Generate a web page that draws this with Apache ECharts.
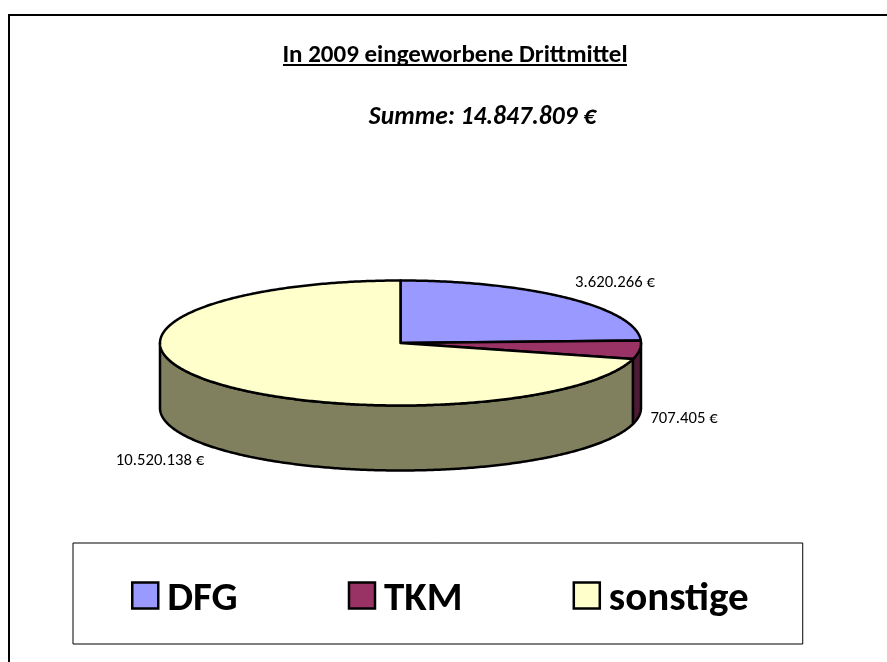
<!DOCTYPE html>
<html>
<head>
<meta charset="utf-8">
<style>html,body{margin:0;padding:0;background:#fff}#c{width:887px;height:662px}</style>
<script src="https://cdn.jsdelivr.net/npm/echarts@6/dist/echarts.min.js"></script>
</head>
<body>
<div id="c"></div>
<script>
var categories = ['DFG', 'TKM', 'sonstige'];
var values = [3620266, 707405, 10520138];
var topColors = ['#9999FF', '#993366', '#FFFFCC'];
var sideColors = ['#4D4D80', '#4D1A33', '#80805F'];
var chartTitle = 'In 2009 eingeworbene Drittmittel';
var chartSubtitle = 'Summe: 14.847.809 €';

var FONT = 'Carlito, Lato, "Open Sans", sans-serif';
var CX = 400.5, CY = 343, RX = 240.5, RY = 62.5, DEPTH = 65;
var labelPos = [[615, 283], [684, 419], [160, 461]];
var total = values.reduce(function (a, b) { return a + b; }, 0);

function fmt(v) {
  return String(v).replace(/\B(?=(\d{3})+$)/g, '.') + ' €';
}
function pt(a, dy) {
  return [CX + RX * Math.sin(a), CY - RY * Math.cos(a) + (dy || 0)];
}
function arc(a0, a1, dy) {
  var pts = [], n = Math.max(2, Math.ceil(Math.abs(a1 - a0) / 0.01));
  for (var i = 0; i <= n; i++) pts.push(pt(a0 + (a1 - a0) * i / n, dy));
  return pts;
}
function renderSlice(idx) {
  return function (params, api) {
    var before = 0;
    for (var i = 0; i < idx; i++) before += values[i];
    var a0 = before / total * 2 * Math.PI;
    var a1 = (before + api.value(0)) / total * 2 * Math.PI;
    var children = [];
    var w0 = Math.max(a0, Math.PI / 2), w1 = Math.min(a1, Math.PI * 1.5);
    if (w1 > w0) {
      var wall = arc(w0, w1, 0).concat(arc(w1, w0, DEPTH));
      children.push({
        type: 'polygon',
        shape: { points: wall },
        style: { fill: sideColors[idx], stroke: '#000', lineWidth: 2.5, lineJoin: 'round' }
      });
    }
    children.push({
      type: 'polygon',
      shape: { points: [[CX, CY]].concat(arc(a0, a1, 0)) },
      style: { fill: topColors[idx], stroke: '#000', lineWidth: 2.5, lineJoin: 'round' }
    });
    children.push({
      type: 'text',
      style: {
        x: labelPos[idx][0], y: labelPos[idx][1],
        text: fmt(api.value(0)),
        fill: '#000', font: '16.7px ' + FONT,
        align: 'center', verticalAlign: 'middle'
      }
    });
    return { type: 'group', children: children };
  };
}

var series = categories.map(function (name, i) {
  return {
    name: name,
    type: 'custom',
    coordinateSystem: 'none',
    renderItem: renderSlice(i),
    itemStyle: { color: topColors[i] },
    data: [[values[i]]],
    silent: true
  };
});

var chart = echarts.init(document.getElementById('c'), null, { renderer: 'canvas' });
chart.setOption({
  animation: false,
  backgroundColor: '#fff',
  title: [
    {
      text: chartTitle,
      left: 450,
      top: 38,
      textAlign: 'center',
      textStyle: { fontFamily: FONT, fontSize: 25, fontWeight: 'bold', color: '#000' }
    },
    {
      text: chartSubtitle,
      left: 477.5,
      top: 100,
      textAlign: 'center',
      textStyle: { fontFamily: FONT, fontSize: 25.5, fontWeight: 'bold', fontStyle: 'italic', color: '#000' }
    }
  ],
  legend: {
    left: 73,
    top: 543,
    orient: 'horizontal',
    padding: [36, 54, 24, 58],
    itemGap: 110,
    itemWidth: 26,
    itemHeight: 26,
    icon: 'rect',
    borderColor: '#000',
    borderWidth: 1,
    backgroundColor: '#fff',
    selectedMode: false,
    data: categories,
    itemStyle: { borderColor: '#000', borderWidth: 2.5 },
    formatter: '{a|{name}}',
    textStyle: {
      rich: {
        a: { fontFamily: FONT, fontSize: 41, fontWeight: 'bold', color: '#000', padding: [8, 0, 0, 4] }
      }
    }
  },
  graphic: [
    { type: 'rect', z: -10, silent: true, shape: { x: 9, y: 15, width: 940, height: 700 }, style: { fill: '#fff', stroke: '#000', lineWidth: 2 } },
    { type: 'line', silent: true, shape: { x1: 283, y1: 65, x2: 627, y2: 65 }, style: { stroke: '#000', lineWidth: 2 } }
  ],
  series: series
});
</script>
</body>
</html>
